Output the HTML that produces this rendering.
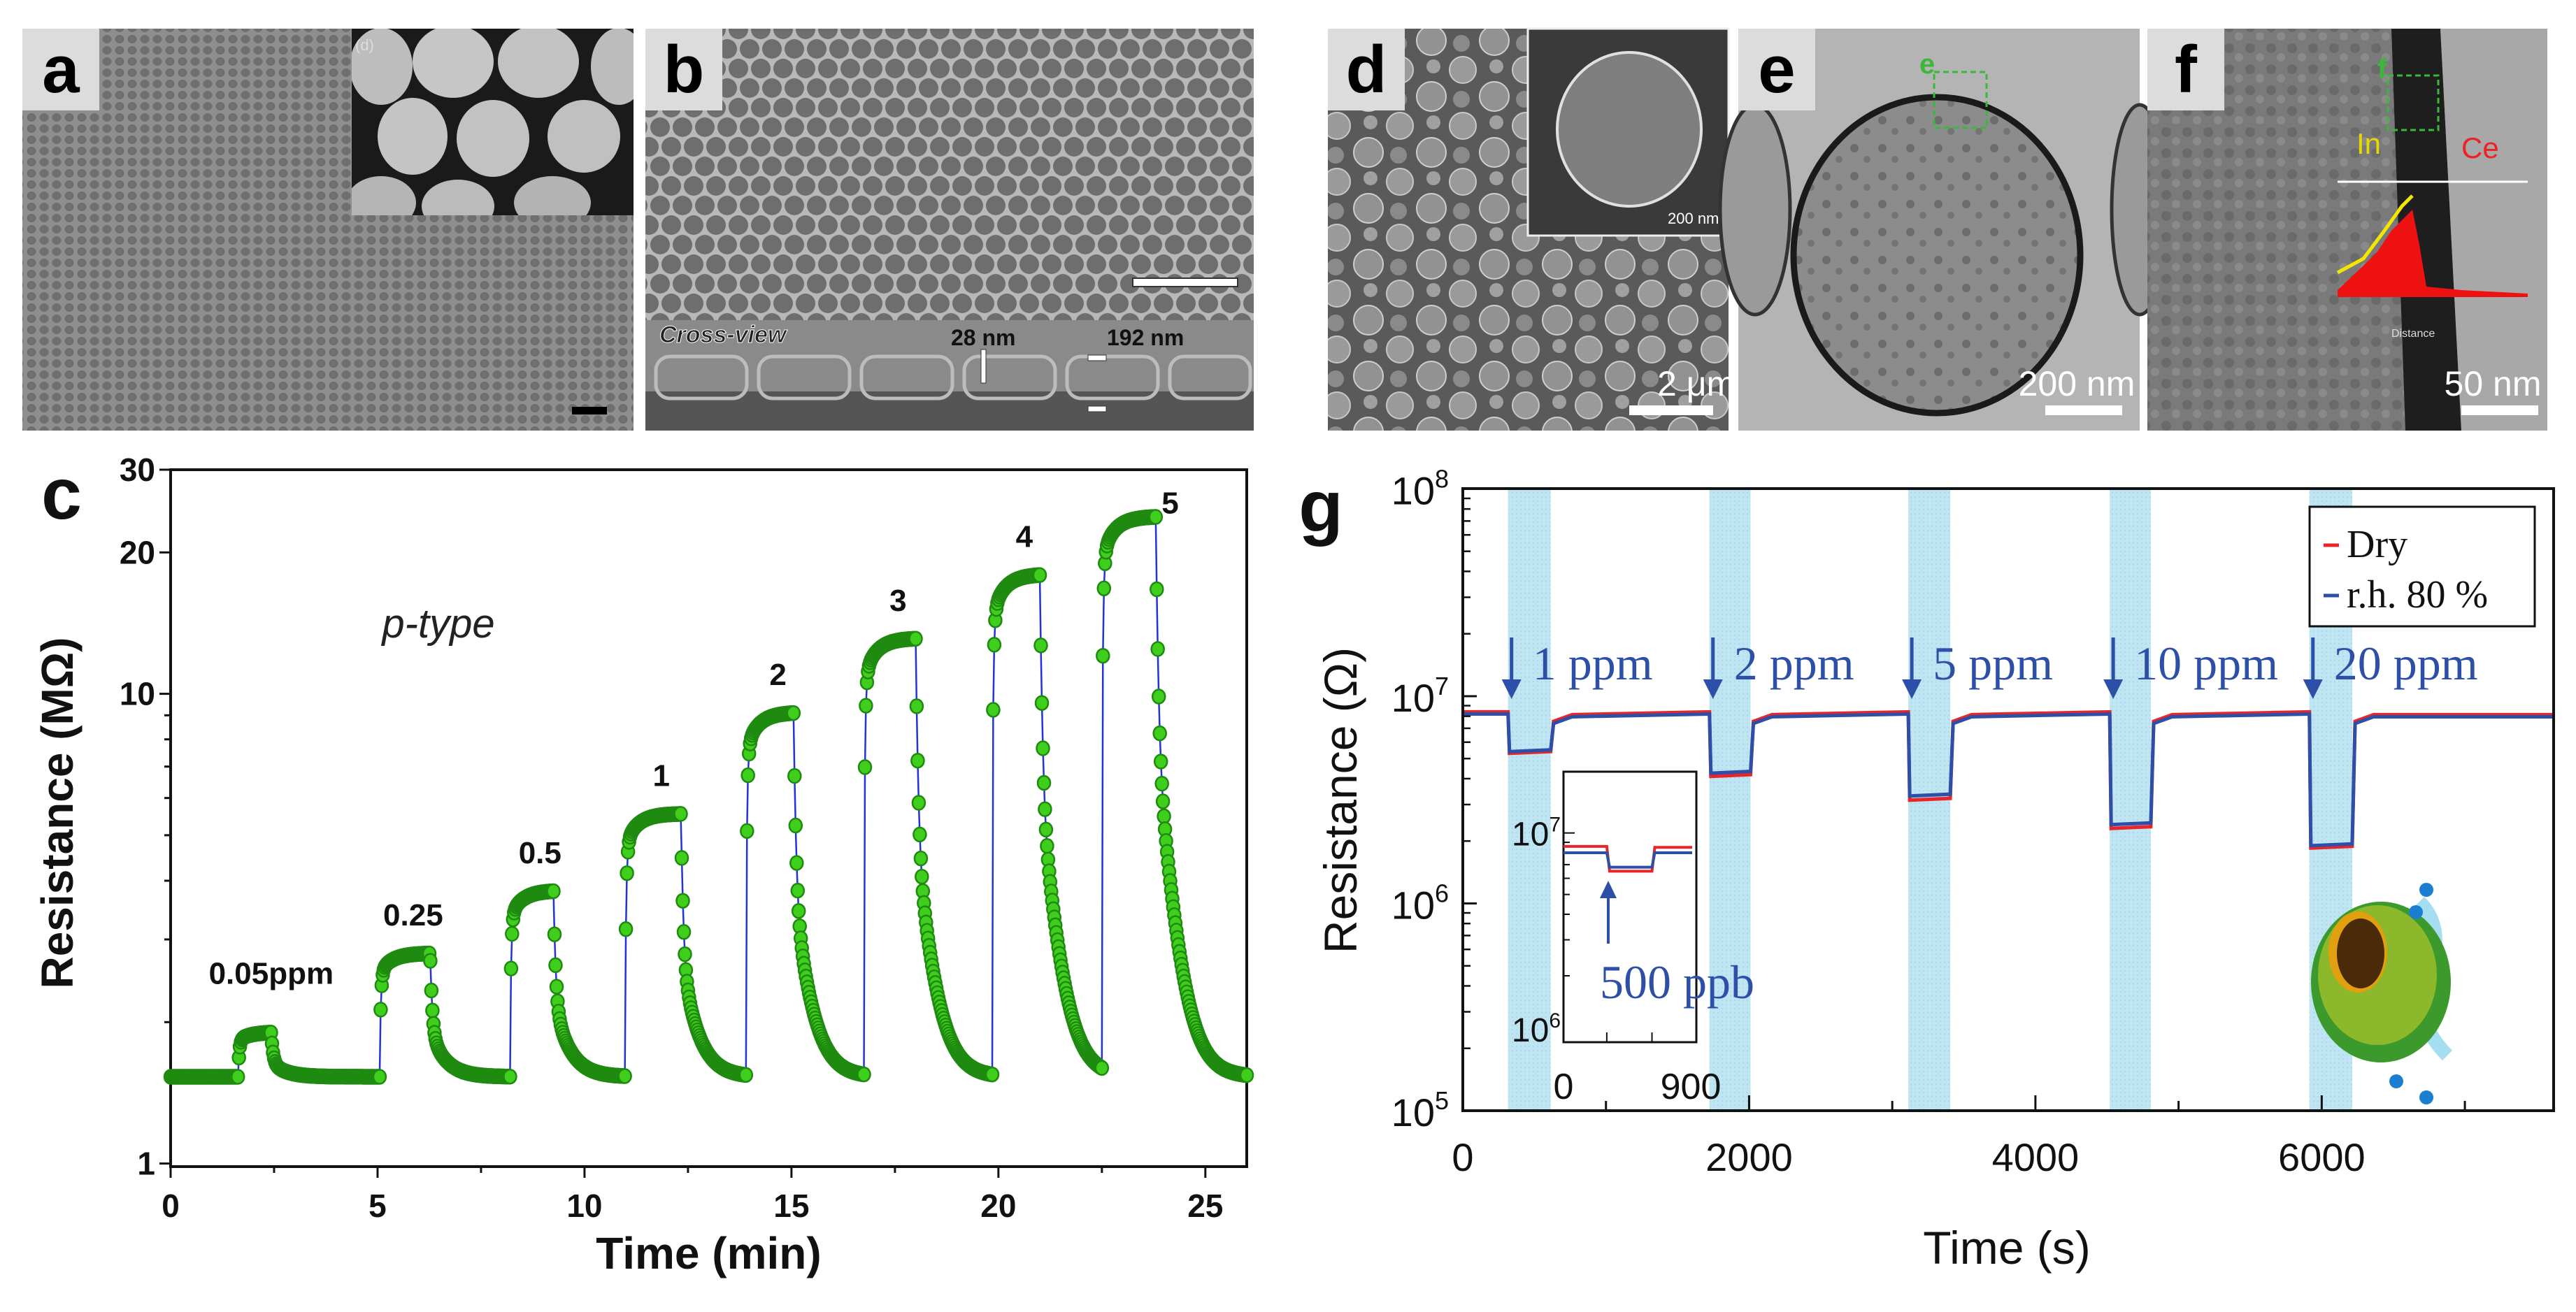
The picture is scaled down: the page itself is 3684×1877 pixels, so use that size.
<!DOCTYPE html>
<html><head><meta charset="utf-8">
<style>
html,body{margin:0;padding:0;background:#fff;}
svg{display:block;}
</style></head>
<body>
<svg id="fig" width="3684" height="1877" viewBox="0 0 3684 1877" xmlns="http://www.w3.org/2000/svg">
<defs>
  <pattern id="hexA" width="18" height="16" patternUnits="userSpaceOnUse">
    <rect width="18" height="16" fill="#8e8e8e"/>
    <ellipse cx="9" cy="8" rx="6.5" ry="6" fill="#6f6f6f"/>
  </pattern>
  <pattern id="hexB" width="64" height="56" patternUnits="userSpaceOnUse">
    <rect width="64" height="56" fill="#b8b8b8"/>
    <circle cx="16" cy="14" r="14" fill="#6e6e6e"/>
    <circle cx="48" cy="14" r="14" fill="#6e6e6e"/>
    <circle cx="0" cy="42" r="14" fill="#6e6e6e"/>
    <circle cx="32" cy="42" r="14" fill="#6e6e6e"/>
    <circle cx="64" cy="42" r="14" fill="#6e6e6e"/>
  </pattern>
  <pattern id="sphD" width="90" height="80" patternUnits="userSpaceOnUse">
    <rect width="90" height="80" fill="#5a5a5a"/>
    <circle cx="22" cy="20" r="19" fill="#9a9a9a" stroke="#c8c8c8" stroke-width="2"/>
    <circle cx="67" cy="58" r="21" fill="#929292" stroke="#cfcfcf" stroke-width="2"/>
    <circle cx="70" cy="15" r="10" fill="#a0a0a0"/>
    <circle cx="20" cy="62" r="12" fill="#8a8a8a"/>
  </pattern>
  <pattern id="bubbleE" width="40" height="40" patternUnits="userSpaceOnUse">
    <rect width="40" height="40" fill="#8c8c8c"/>
    <circle cx="12" cy="12" r="6" fill="#6c6c6c"/>
    <circle cx="30" cy="28" r="5" fill="#747474"/>
  </pattern>
  <pattern id="texF" width="30" height="30" patternUnits="userSpaceOnUse">
    <rect width="30" height="30" fill="#7a7a7a"/>
    <circle cx="8" cy="9" r="7" fill="#6a6a6a"/>
    <circle cx="22" cy="22" r="6" fill="#8a8a8a"/>
  </pattern>
  <pattern id="dotsG" width="6" height="6" patternUnits="userSpaceOnUse">
    <rect width="6" height="6" fill="#bfe4f2"/>
    <circle cx="3" cy="3" r="1" fill="#a6d6ea"/>
  </pattern>
  <clipPath id="clipAIns"><rect x="503" y="41" width="403" height="267"/></clipPath>
</defs>

<!-- ===== Panel a ===== -->
<g>
  <rect x="32" y="41" width="874" height="575" fill="url(#hexA)"/>
  <g clip-path="url(#clipAIns)">
    <rect x="503" y="41" width="403" height="267" fill="#1a1a1a"/>
    <ellipse cx="545" cy="95" rx="45" ry="55" fill="#bdbdbd"/>
    <ellipse cx="648" cy="88" rx="58" ry="52" fill="#c6c6c6"/>
    <ellipse cx="770" cy="88" rx="58" ry="52" fill="#c2c2c2"/>
    <ellipse cx="885" cy="95" rx="40" ry="55" fill="#bcbcbc"/>
    <ellipse cx="590" cy="195" rx="50" ry="55" fill="#c4c4c4"/>
    <ellipse cx="705" cy="198" rx="52" ry="55" fill="#c2c2c2"/>
    <ellipse cx="835" cy="195" rx="52" ry="52" fill="#c0c0c0"/>
    <ellipse cx="545" cy="290" rx="50" ry="38" fill="#b5b5b5"/>
    <ellipse cx="655" cy="295" rx="52" ry="38" fill="#bbbbbb"/>
    <ellipse cx="790" cy="290" rx="55" ry="38" fill="#b3b3b3"/>
    <text x="508" y="72" font-family="Liberation Sans, sans-serif" font-size="22" fill="#ddd">(d)</text>
  </g>
  <rect x="32" y="41" width="110" height="117" fill="#dcdcdc"/>
  <text x="87" y="132" text-anchor="middle" font-family="Liberation Sans, sans-serif" font-weight="bold" font-size="96" fill="#000">a</text>
  <rect x="818" y="582" width="50" height="11" fill="#000"/>
</g>

<!-- ===== Panel b ===== -->
<g>
  <rect x="923" y="41" width="870" height="417" fill="url(#hexB)"/>
  <rect x="923" y="458" width="870" height="158" fill="#8a8a8a"/>
  <rect x="923" y="560" width="870" height="56" fill="#555"/>
  <g fill="none" stroke="#bcbcbc" stroke-width="5">
    <rect x="938" y="510" width="130" height="60" rx="20"/>
    <rect x="1085" y="510" width="130" height="60" rx="20"/>
    <rect x="1232" y="510" width="130" height="60" rx="20"/>
    <rect x="1379" y="510" width="130" height="60" rx="20"/>
    <rect x="1526" y="510" width="130" height="60" rx="20"/>
    <rect x="1673" y="510" width="115" height="60" rx="20"/>
  </g>
  <rect x="1620" y="398" width="150" height="12" fill="#fff" stroke="#333" stroke-width="2"/>
  <text x="943" y="490" font-family="Liberation Sans, sans-serif" font-style="italic" font-weight="bold" font-size="34" fill="#222" stroke="#fff" stroke-width="1">Cross-view</text>
  <text x="1360" y="494" font-family="Liberation Sans, sans-serif" font-weight="bold" font-size="32" fill="#111">28 nm</text>
  <text x="1583" y="494" font-family="Liberation Sans, sans-serif" font-weight="bold" font-size="32" fill="#111">192 nm</text>
  <rect x="1403" y="500" width="7" height="48" fill="#fff" stroke="#333"/>
  <rect x="1556" y="508" width="26" height="8" fill="#fff" stroke="#333"/>
  <rect x="1556" y="581" width="26" height="8" fill="#fff" stroke="#333"/>
  <rect x="923" y="41" width="110" height="117" fill="#dcdcdc"/>
  <text x="978" y="132" text-anchor="middle" font-family="Liberation Sans, sans-serif" font-weight="bold" font-size="96" fill="#000">b</text>
</g>

<!-- ===== Panel d ===== -->
<g>
  <rect x="1899" y="41" width="573" height="575" fill="url(#sphD)"/>
  <rect x="2185" y="41" width="287" height="296" fill="#3a3a3a" stroke="#eee" stroke-width="3"/>
  <ellipse cx="2330" cy="185" rx="103" ry="110" fill="#7e7e7e" stroke="#e0e0e0" stroke-width="4"/>
  <text x="2385" y="320" font-family="Liberation Sans, sans-serif" font-size="22" fill="#fff">200 nm</text>
  <rect x="1899" y="41" width="110" height="117" fill="#dcdcdc"/>
  <text x="1954" y="132" text-anchor="middle" font-family="Liberation Sans, sans-serif" font-weight="bold" font-size="96" fill="#000">d</text>
  <text x="2370" y="566" font-family="Liberation Sans, sans-serif" font-size="50" fill="#fff">2 μm</text>
  <rect x="2330" y="580" width="120" height="14" fill="#fff"/>
</g>

<!-- ===== Panel e ===== -->
<g>
  <rect x="2486" y="41" width="574" height="575" fill="#b4b4b4"/>
  <ellipse cx="2510" cy="300" rx="50" ry="150" fill="#9a9a9a" stroke="#333" stroke-width="5"/>
  <ellipse cx="3060" cy="300" rx="40" ry="150" fill="#9a9a9a" stroke="#333" stroke-width="5"/>
  <ellipse cx="2770" cy="365" rx="205" ry="226" fill="url(#bubbleE)" stroke="#1a1a1a" stroke-width="9"/>
  <rect x="2766" y="103" width="75" height="80" fill="none" stroke="#3bb83b" stroke-width="3" stroke-dasharray="8 5"/>
  <text x="2745" y="105" font-family="Liberation Sans, sans-serif" font-weight="bold" font-size="40" fill="#3bb83b">e</text>
  <rect x="2486" y="41" width="110" height="117" fill="#dcdcdc"/>
  <text x="2541" y="132" text-anchor="middle" font-family="Liberation Sans, sans-serif" font-weight="bold" font-size="96" fill="#000">e</text>
  <text x="2970" y="566" text-anchor="middle" font-family="Liberation Sans, sans-serif" font-size="50" fill="#fff">200 nm</text>
  <rect x="2925" y="580" width="110" height="14" fill="#fff"/>
</g>

<!-- ===== Panel f ===== -->
<g>
  <rect x="3071" y="41" width="572" height="575" fill="url(#texF)"/>
  <polygon points="3420,41 3490,41 3520,616 3440,616" fill="#1e1e1e"/>
  <polygon points="3490,41 3643,41 3643,616 3520,616" fill="#a8a8a8"/>
  <rect x="3415" y="108" width="72" height="78" fill="none" stroke="#3bb83b" stroke-width="3" stroke-dasharray="8 5"/>
  <text x="3400" y="112" font-family="Liberation Sans, sans-serif" font-weight="bold" font-size="40" fill="#3bb83b">f</text>
  <line x1="3343" y1="260" x2="3615" y2="260" stroke="#fff" stroke-width="3"/>
  <polygon points="3343,415 3380,380 3400,360 3420,330 3440,310 3450,300 3460,350 3470,410 3520,415 3615,420 3615,425 3343,425" fill="#ee1111"/>
  <polyline points="3343,390 3380,370 3410,330 3435,295 3450,280" fill="none" stroke="#f3e600" stroke-width="5"/>
  <text x="3370" y="220" font-family="Liberation Sans, sans-serif" font-size="42" fill="#e6d800">In</text>
  <text x="3520" y="226" font-family="Liberation Sans, sans-serif" font-size="42" fill="#e22">Ce</text>
  <text x="3420" y="482" font-family="Liberation Sans, sans-serif" font-size="16" fill="#ddd">Distance</text>
  <rect x="3071" y="41" width="110" height="117" fill="#dcdcdc"/>
  <text x="3126" y="132" text-anchor="middle" font-family="Liberation Sans, sans-serif" font-weight="bold" font-size="96" fill="#000">f</text>
  <text x="3565" y="566" text-anchor="middle" font-family="Liberation Sans, sans-serif" font-size="50" fill="#fff">50 nm</text>
  <rect x="3520" y="580" width="110" height="14" fill="#fff"/>
</g>

<g id="chartC"></g>
<g id="chartG"></g>
</svg>

<script>
// ---------- Panel c data ----------
const cLabels = ["0.05ppm","0.25","0.5","1","2","3","4","5"];
const cOn = [1.63, 5.05, 8.2, 10.98, 13.9, 16.75, 19.85, 22.5];
const cOff = [2.43, 6.27, 9.25, 12.33, 15.05, 18.0, 21.0, 23.8];
const cPeak = [1.9, 2.8, 3.8, 5.55, 9.1, 13.1, 17.9, 23.8];
const cBase = [1.53];
const cXTicks = [0, 5, 10, 15, 20, 25];
const cYTicks = [1, 10, 20, 30];

// ---------- Panel g data ----------
const gDoses = ["1 ppm","2 ppm","5 ppm","10 ppm","20 ppm"];
const gOn = [316, 1723, 3112, 4519, 5914];
const gOff = [614, 2010, 3405, 4806, 6213];
const gDryLow = [5.3e6, 4.1e6, 3.15e6, 2.3e6, 1.85e6];
const gWetLow = [5.4e6, 4.25e6, 3.3e6, 2.4e6, 1.9e6];
const gDryBase = [8.4e6];
const gWetBase = [8.2e6];
const gXTicks = [0, 2000, 4000, 6000];
const gYExp = [5, 6, 7, 8];
// inset (500 ppb)
const insDry = [8.6e6, 6.5e6, 8.5e6];
const insWet = [8.0e6, 6.8e6, 8.0e6];

const NS = "http://www.w3.org/2000/svg";
function mk(parent, tag, attrs, text) {
  const e = document.createElementNS(NS, tag);
  for (const k in attrs) e.setAttribute(k, attrs[k]);
  if (text !== undefined) e.textContent = text;
  parent.appendChild(e);
  return e;
}

// ================= Panel c =================
(function () {
  const g = document.getElementById("chartC");
  const L = 244, R = 1783, T = 672, B = 1669;
  const xMax = 26;
  const yDec = 800 * 0.84;
  const xs = t => L + (t / xMax) * (R - L);
  const ys = v => 560 + 1315 * 0.84 - Math.log10(v) * yDec;

  const ax = mk(g, "rect", {x: L, y: T, width: R - L, height: B - T, fill: "#fff", stroke: "#111", "stroke-width": 4});
  
  

  const ff = "Liberation Sans, sans-serif";
  for (let t = 0; t <= 25; t += 2.5) {
    const major = t % 5 === 0;
    mk(g, "line", {x1: xs(t), x2: xs(t), y1: B, y2: B + (major ? 16 : 9), stroke: "#111", "stroke-width": 3});
  }
  cXTicks.forEach(t => {
    const e = mk(g, "text", {x: xs(t), y: B + 72, "text-anchor": "middle", "font-family": ff, "font-weight": "bold", "font-size": 46, fill: "#111"}, String(t));
    
    
  });
  for (let d = 1; d <= 30; d++) {
    if (d > 10 && d % 10 !== 0) continue;
    const major = cYTicks.includes(d);
    mk(g, "line", {x1: L - (major ? 16 : 9), x2: L, y1: ys(d), y2: ys(d), stroke: "#111", "stroke-width": 3});
  }
  cYTicks.forEach(v => {
    const e = mk(g, "text", {x: L - 22, y: ys(v) + 16, "text-anchor": "end", "font-family": ff, "font-weight": "bold", "font-size": 46, fill: "#111"}, String(v));
    
    
  });
  let e = mk(g, "text", {x: (L + R) / 2, y: 1815, "text-anchor": "middle", "font-family": ff, "font-weight": "bold", "font-size": 64, fill: "#111"}, "Time (min)");
  
  
  e = mk(g, "text", {x: 0, y: 0, transform: "translate(104,1163) rotate(-90)", "text-anchor": "middle", "font-family": ff, "font-weight": "bold", "font-size": 64, fill: "#111"}, "Resistance (MΩ)");
  
  
  e = mk(g, "text", {x: 88, y: 742, "text-anchor": "middle", "font-family": ff, "font-weight": "bold", "font-size": 104, fill: "#111"}, "c");
  
  
  e = mk(g, "text", {x: 627, y: 912, "text-anchor": "middle", "font-family": ff, "font-style": "italic", "font-size": 58, fill: "#222"}, "p-type");
  
  

  const base = cBase[0];
  const pts = [];
  const dt = 0.025;
  const rise = tt => 0.8 * (1 - Math.exp(-tt / 0.03)) + 0.2 * (1 - Math.exp(-tt / 0.3));
  for (let t = 0; t <= xMax + 1e-9; t += dt) {
    let v = base;
    for (let i = 0; i < cOn.length; i++) {
      const amp = cPeak[i] - base;
      if (t >= cOn[i] && t <= cOff[i]) {
        v += amp * rise(t - cOn[i]) / rise(cOff[i] - cOn[i]);
      } else if (t > cOff[i]) {
        const tt = t - cOff[i];
        v += amp * (0.7 * Math.exp(-tt / 0.045) + 0.3 * Math.exp(-tt / 0.35));
      }
    }
    pts.push([t, v]);
  }
  const line = mk(g, "polyline", {points: pts.map(p => xs(p[0]).toFixed(1) + "," + ys(p[1]).toFixed(1)).join(" "), fill: "none", stroke: "#2233dd", "stroke-width": 2.5});
  
  
  const mg = mk(g, "g", {fill: "#3fce1c", stroke: "#1f8a10", "stroke-width": 2.5});
  
  
  pts.forEach(p => {
    const c = mk(mg, "ellipse", {cx: xs(p[0]).toFixed(1), cy: ys(p[1]).toFixed(1), rx: 9, ry: 10});
    
    
  });
  cLabels.forEach((lab, i) => {
    let cx = (cOn[i] + cOff[i]) / 2 + 0.2, dy = -40;
    if (i === 0) { cx = (cOn[i] + cOff[i]) / 2 + 0.4; dy = -70; }
    if (i === 7) { cx = cOff[i] + 0.35; dy = -5; }
    const t = mk(g, "text", {x: xs(cx), y: ys(cPeak[i]) + dy, "text-anchor": "middle", "font-family": ff, "font-weight": "bold", "font-size": 44, fill: "#111"}, lab);
    
    
  });
})();

// ================= Panel g =================
(function () {
  const g = document.getElementById("chartG");
  const L = 2092, R = 3652, T = 699, B = 1589;
  const xMax = 7620;
  const dec = 353 * 0.84;
  const xs = t => L + (t / xMax) * (R - L);
  const ys = v => B - (Math.log10(v) - 5) * dec;
  const ff = "Liberation Sans, sans-serif";
  const tf = "Liberation Serif, serif";

  mk(g, "rect", {x: L, y: T, width: R - L, height: B - T, fill: "#fff"});
  gOn.forEach((on, i) => {
    const r = mk(g, "rect", {x: xs(on), y: T, width: xs(gOff[i]) - xs(on), height: B - T, fill: "url(#dotsG)"});
    
    
  });
  function series(baseV, lows, color, name) {
    let d = "M" + xs(0) + "," + ys(baseV);
    gOn.forEach((on, i) => {
      d += " L" + xs(on) + "," + ys(baseV) + " L" + xs(on + 10) + "," + ys(lows[i]) + " L" + xs(gOff[i]) + "," + ys(lows[i] * 1.02);
      d += " L" + xs(gOff[i] + 20) + "," + ys(baseV * 0.9) + " L" + xs(gOff[i] + 150) + "," + ys(baseV * 0.97);
    });
    d += " L" + xs(xMax) + "," + ys(baseV * 0.97);
    const p = mk(g, "path", {d: d, fill: "none", stroke: color, "stroke-width": 5});
    
    
  }
  series(gDryBase[0], gDryLow, "#e8262a", "dry-series");
  series(gWetBase[0], gWetLow, "#2e4fa8", "rh80-series");

  mk(g, "rect", {x: L, y: T, width: R - L, height: B - T, fill: "none", stroke: "#111", "stroke-width": 4});
  for (let t = 0; t <= 7000; t += 1000) {
    const major = t % 2000 === 0;
    mk(g, "line", {x1: xs(t), x2: xs(t), y1: B, y2: B - (major ? 22 : 14), stroke: "#111", "stroke-width": 3});
  }
  gXTicks.forEach(t => {
    const e = mk(g, "text", {x: xs(t), y: B + 86, "text-anchor": "middle", "font-family": ff, "font-size": 56, fill: "#111"}, String(t));
    
    
  });
  gYExp.forEach(p => {
    mk(g, "line", {x1: L, x2: L + 20, y1: ys(Math.pow(10, p)), y2: ys(Math.pow(10, p)), stroke: "#111", "stroke-width": 3});
    if (p < 8) for (let m = 2; m < 10; m++) {
      const yy = ys(m * Math.pow(10, p));
      mk(g, "line", {x1: L, x2: L + 11, y1: yy, y2: yy, stroke: "#111", "stroke-width": 2.5});
    }
    const t = mk(g, "text", {x: L - 20, y: ys(Math.pow(10, p)) + 22, "text-anchor": "end", "font-family": ff, "font-size": 56, fill: "#111"});
    
    
    t.appendChild(document.createTextNode("10"));
    mk(t, "tspan", {dy: -24, "font-size": 36}, String(p));
  });
  let e = mk(g, "text", {x: 2870, y: 1808, "text-anchor": "middle", "font-family": ff, "font-size": 66, fill: "#111"}, "Time (s)");
  
  
  e = mk(g, "text", {x: 0, y: 0, transform: "translate(1940,1145) rotate(-90)", "text-anchor": "middle", "font-family": ff, "font-size": 66, fill: "#111"}, "Resistance (Ω)");
  
  
  e = mk(g, "text", {x: 1889, y: 760, "text-anchor": "middle", "font-family": ff, "font-weight": "bold", "font-size": 104, fill: "#111"}, "g");
  
  

  gDoses.forEach((lab, i) => {
    const ax = xs(gOn[i]) + 5;
    mk(g, "line", {x1: ax, x2: ax, y1: 912, y2: 982, stroke: "#2e4fa8", "stroke-width": 5});
    mk(g, "polygon", {points: (ax - 14) + ",972 " + (ax + 14) + ",972 " + ax + ",1000", fill: "#2e4fa8"});
    const t = mk(g, "text", {x: ax + 30, y: 972, "font-family": tf, "font-size": 68, fill: "#2e4fa8"}, lab);
    
    
  });

  const lg = mk(g, "g", {});
  
  
  mk(lg, "rect", {x: 3303, y: 725, width: 322, height: 171, fill: "#fff", stroke: "#111", "stroke-width": 3});
  mk(lg, "line", {x1: 3323, x2: 3345, y1: 780, y2: 780, stroke: "#e8262a", "stroke-width": 5});
  let le = mk(lg, "text", {x: 3356, y: 797, "font-family": tf, "font-size": 56, fill: "#111"}, "Dry");
  
  
  mk(lg, "line", {x1: 3323, x2: 3345, y1: 852, y2: 852, stroke: "#2e4fa8", "stroke-width": 5});
  le = mk(lg, "text", {x: 3356, y: 869, "font-family": tf, "font-size": 56, fill: "#111"}, "r.h. 80 %");
  
  

  // inset
  const ig = mk(g, "g", {});
  
  
  const iL = 2236, iR = 2426, iT = 1104, iB = 1491;
  mk(ig, "rect", {x: iL, y: iT, width: iR - iL, height: iB - iT, fill: "#fff", stroke: "#111", "stroke-width": 3});
  const i7 = 560 + 752 * 0.84, i6 = 560 + 1100 * 0.84;
  const iy = v => i7 + (7 - Math.log10(v)) * (i6 - i7);
  const ix1 = 1842 + 388 * 1.175, ix2 = 1842 + 443 * 1.175;
  for (let m = 2; m < 10; m++) mk(ig, "line", {x1: iL, x2: iL + 9, y1: iy(m * 1e6), y2: iy(m * 1e6), stroke: "#111", "stroke-width": 2});
  mk(ig, "line", {x1: iL, x2: iL + 16, y1: i7, y2: i7, stroke: "#111", "stroke-width": 2});
  [ix1, ix2].forEach(x => mk(ig, "line", {x1: x, x2: x, y1: iB, y2: iB - 14, stroke: "#111", "stroke-width": 2}));
  mk(ig, "polyline", {points: `${iL},${iy(insDry[0])} ${ix1},${iy(insDry[0])} ${ix1 + 4},${iy(insDry[1])} ${ix2},${iy(insDry[1])} ${ix2 + 4},${iy(insDry[2])} ${iR - 6},${iy(insDry[2])}`, fill: "none", stroke: "#e8262a", "stroke-width": 4});
  mk(ig, "polyline", {points: `${iL},${iy(insWet[0])} ${ix1},${iy(insWet[0])} ${ix1 + 4},${iy(insWet[1])} ${ix2},${iy(insWet[1])} ${ix2 + 4},${iy(insWet[2])} ${iR - 6},${iy(insWet[2])}`, fill: "none", stroke: "#2e4fa8", "stroke-width": 4});
  mk(ig, "line", {x1: 2300, x2: 2300, y1: 1350, y2: 1275, stroke: "#2e4fa8", "stroke-width": 4});
  mk(ig, "polygon", {points: "2288,1285 2312,1285 2300,1260", fill: "#2e4fa8"});
  let it = mk(ig, "text", {x: 2288, y: 1428, "font-family": tf, "font-size": 68, fill: "#2e4fa8"}, "500 ppb");
  
  
  it = mk(ig, "text", {x: iL - 4, y: i7 + 18, "text-anchor": "end", "font-family": ff, "font-size": 48, fill: "#111"});
  it.appendChild(document.createTextNode("10"));
  mk(it, "tspan", {dy: -20, "font-size": 30}, "7");
  it = mk(ig, "text", {x: iL - 4, y: i6 + 6, "text-anchor": "end", "font-family": ff, "font-size": 48, fill: "#111"});
  it.appendChild(document.createTextNode("10"));
  mk(it, "tspan", {dy: -20, "font-size": 30}, "6");
  mk(ig, "text", {x: iL, y: 1572, "text-anchor": "middle", "font-family": ff, "font-size": 52, fill: "#111"}, "0");
  mk(ig, "text", {x: iR - 8, y: 1572, "text-anchor": "middle", "font-family": ff, "font-size": 52, fill: "#111"}, "900");

  const sg = mk(g, "g", {});
  
  
  mk(sg, "path", {d: "M3460,1290 q40,40 10,110 q-20,60 30,110", fill: "none", stroke: "#8fd4ee", "stroke-width": 20, opacity: 0.8});
  mk(sg, "ellipse", {cx: 3405, cy: 1405, rx: 100, ry: 115, fill: "#3c9a2c"});
  mk(sg, "ellipse", {cx: 3400, cy: 1395, rx: 85, ry: 100, fill: "#8cb82c"});
  mk(sg, "ellipse", {cx: 3372, cy: 1362, rx: 42, ry: 58, fill: "#e0a010"});
  mk(sg, "ellipse", {cx: 3376, cy: 1364, rx: 34, ry: 50, fill: "#4a2a08"});
  [[3470,1273],[3455,1305],[3427,1547],[3470,1570]].forEach(p => mk(sg, "circle", {cx: p[0], cy: p[1], r: 10, fill: "#1a7fd0"}));
})();
</script>
</body></html>
